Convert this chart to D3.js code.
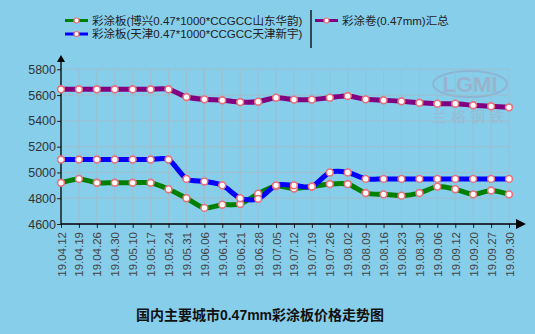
<!DOCTYPE html>
<html>
<head>
<meta charset="utf-8">
<script src="https://cdn.jsdelivr.net/npm/d3@7/dist/d3.min.js"></script>
<style>
  html, body { margin: 0; padding: 0; background: #87CEEB; }
  svg { display: block; }
  text { font-family: "Liberation Sans", Arial, "Noto Sans CJK SC", sans-serif; }
</style>
</head>
<body>
<svg id="chart" width="535" height="334"></svg>
<script>
// Weekly sample dates (yy.mm.dd)
const dates = ["19.04.12","19.04.19","19.04.26","19.04.30","19.05.10","19.05.17","19.05.24","19.05.31",
  "19.06.06","19.06.14","19.06.21","19.06.28","19.07.05","19.07.12","19.07.19","19.07.26","19.08.02",
  "19.08.09","19.08.16","19.08.23","19.08.30","19.09.06","19.09.12","19.09.20","19.09.27","19.09.30"];

// Prices, yuan/ton
const boxingPrices = [4920,4950,4920,4920,4920,4920,4870,4800,4725,4750,4755,4835,4895,4875,4890,4910,4910,
  4840,4830,4820,4840,4890,4870,4830,4860,4830];
const tianjinPrices = [5100,5100,5100,5100,5100,5100,5100,4950,4930,4900,4800,4795,4900,4900,4890,5000,5000,
  4950,4950,4950,4950,4950,4950,4950,4950,4950];
const coilAvgPrices = [5645,5645,5645,5645,5645,5645,5645,5585,5567,5560,5546,5549,5580,5565,5565,5580,5593,
  5567,5560,5552,5540,5533,5533,5521,5513,5505];

const seriesNames = ["彩涂板(博兴0.47*1000*CCGCC山东华韵)", "彩涂板(天津0.47*1000*CCGCC天津新宇)", "彩涂卷(0.47mm)汇总"];
const seriesColors = ["#008000", "#0000FF", "#800080"];
const yTicks = [4600, 4800, 5000, 5200, 5400, 5600, 5800];
const chartTitle = "国内主要城市0.47mm彩涂板价格走势图";

const svg = d3.select("#chart");
const plotL = 61, plotR = 509, plotT = 69.3, plotB = 224;

const x = d3.scalePoint().domain(dates).range([plotL, plotR]);
const y = d3.scaleLinear().domain([4600, 5800]).range([plotB, plotT]);

// watermark
const wm = svg.append("g").attr("opacity", 0.3);
wm.append("ellipse").attr("cx", 470).attr("cy", 84).attr("rx", 37).attr("ry", 13)
  .attr("fill", "none").attr("stroke", "#9a7fa0").attr("stroke-width", 2);
wm.append("text").attr("x", 470).attr("y", 92).attr("text-anchor", "middle")
  .attr("font-size", 22).attr("font-weight", "bold").attr("fill", "#c07a8a").text("LGMI");
wm.append("text").attr("x", 470).attr("y", 122).attr("text-anchor", "middle")
  .attr("font-size", 15).attr("fill", "#c090a0").attr("letter-spacing", 4)
  .style("font-family", "'Noto Sans CJK SC'").text("兰格钢铁");

// grid
const grid = svg.append("g").attr("stroke", "#a9b9c0").attr("stroke-width", 1).attr("opacity", 0.7);
grid.selectAll("line.h").data(yTicks.slice(1)).join("line").attr("class", "h")
  .attr("x1", plotL).attr("x2", plotR).attr("y1", d => y(d)).attr("y2", d => y(d));
grid.selectAll("line.v").data(dates.slice(1)).join("line").attr("class", "v")
  .attr("x1", d => x(d)).attr("x2", d => x(d)).attr("y1", plotT).attr("y2", plotB);

// y axis
const yAxis = svg.append("g").attr("transform", `translate(${plotL},0)`)
  .call(d3.axisLeft(y).tickValues(yTicks).tickFormat(d3.format("d"))
    .tickSize(4).tickSizeOuter(0).tickPadding(1));
yAxis.select(".domain").remove();
yAxis.selectAll("line").attr("stroke", "#222");
yAxis.selectAll("text").attr("font-size", 12.5).attr("fill", "#333");

// x axis
const xAxis = svg.append("g").attr("transform", `translate(0,${plotB})`)
  .call(d3.axisBottom(x).tickSize(4).tickSizeOuter(0));
xAxis.select(".domain").remove();
xAxis.selectAll("line").attr("stroke", "#222");
xAxis.selectAll("text").attr("font-size", 11.5).attr("fill", "#444")
  .attr("text-anchor", "end").attr("transform", "rotate(-90)")
  .attr("x", -8).attr("y", 0).attr("dy", "0.35em");

// axis lines with arrows
svg.append("line").attr("x1", plotL).attr("x2", plotL).attr("y1", plotB).attr("y2", 60)
  .attr("stroke", "#000").attr("stroke-width", 1.3);
svg.append("path").attr("d", `M${plotL},55 L${plotL - 4},62 L${plotL + 4},62 Z`).attr("fill", "#000");
svg.append("line").attr("x1", plotL).attr("x2", 518).attr("y1", plotB).attr("y2", plotB)
  .attr("stroke", "#000").attr("stroke-width", 1.3);
svg.append("path").attr("d", `M526,${plotB} L516,${plotB - 5} L516,${plotB + 5} Z`).attr("fill", "#000");

// series lines
const series = [boxingPrices, tianjinPrices, coilAvgPrices];
const line = d3.line().x((d, i) => x(dates[i])).y(d => y(d)).curve(d3.curveCardinal.tension(0.2));
const order = [2, 0, 1];
order.forEach(k => {
  svg.append("path").datum(series[k]).attr("d", line)
    .attr("fill", "none").attr("stroke", seriesColors[k]).attr("stroke-width", 5)
    .attr("stroke-linejoin", "round").attr("stroke-linecap", "round");
});
order.forEach(k => {
  svg.append("g").selectAll("circle").data(series[k]).join("circle")
    .attr("cx", (d, i) => x(dates[i])).attr("cy", d => y(d)).attr("r", 3.4)
    .attr("fill", "#fff").attr("stroke", "#e8707a").attr("stroke-width", 1.6);
});

// legend
const legendItems = [
  { k: 0, lx: 65, ty: 20.5, tx: 92 },
  { k: 1, lx: 65, ty: 34, tx: 92 },
  { k: 2, lx: 315, ty: 20.5, tx: 342 }
];
const legend = svg.append("g");
legendItems.forEach(it => {
  legend.append("line").attr("x1", it.lx).attr("x2", it.lx + 23).attr("y1", it.ty).attr("y2", it.ty)
    .attr("stroke", seriesColors[it.k]).attr("stroke-width", 3);
  legend.append("circle").attr("cx", it.lx + 11.5).attr("cy", it.ty).attr("r", 2.5)
    .attr("fill", "#fff").attr("stroke", "#e8707a").attr("stroke-width", 1.2);
  legend.append("text").attr("x", it.tx).attr("y", it.ty).attr("dy", "0.35em")
    .attr("font-size", 11.5).attr("fill", "#222").text(seriesNames[it.k]);
});
legend.append("line").attr("x1", 311).attr("x2", 311).attr("y1", 10).attr("y2", 48)
  .attr("stroke", "#000").attr("stroke-width", 1.3);

// title
svg.append("text").attr("x", 260).attr("y", 320).attr("text-anchor", "middle")
  .attr("font-size", 14).attr("font-weight", "bold").attr("fill", "#111").text(chartTitle);
</script>
</body>
</html>
